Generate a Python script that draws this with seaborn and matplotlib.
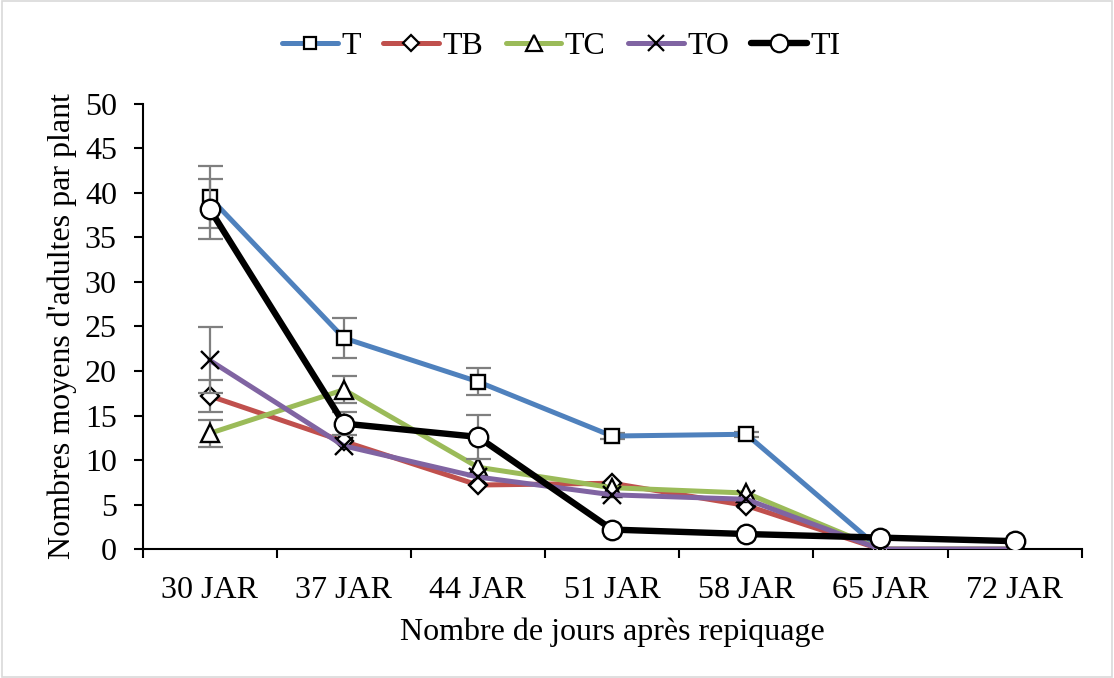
import numpy as np
import pandas as pd
import matplotlib.pyplot as plt
import seaborn as sns
from matplotlib.lines import Line2D
from matplotlib.patches import Rectangle

# Data
days = ['30 JAR', '37 JAR', '44 JAR', '51 JAR', '58 JAR', '65 JAR', '72 JAR']
series = ['T', 'TB', 'TC', 'TO', 'TI']
T  = [39.5, 23.7, 18.8, 12.7, 12.9, 0.0, 0.0]
TB = [17.2, 12.1, 7.2, 7.4, 4.9, 0.0, 0.0]
TC = [13.0, 17.9, 9.2, 6.9, 6.3, 0.0, 0.0]
TO = [21.2, 11.6, 8.1, 6.1, 5.6, 0.0, 0.0]
TI = [38.2, 14.1, 12.6, 2.2, 1.7, 1.3, 0.9]
T_err  = [3.5, 2.2, 1.5, 0.3, 0.3, 0, 0]
TB_err = [1.8, 0, 0, 0, 0, 0, 0]
TC_err = [1.5, 1.5, 0, 0, 0, 0, 0]
TO_err = [3.7, 0, 0, 0, 0, 0, 0]
TI_err = [3.4, 1.3, 2.5, 0, 0, 0, 0]

values = {'T': T, 'TB': TB, 'TC': TC, 'TO': TO, 'TI': TI}
errors = {'T': T_err, 'TB': TB_err, 'TC': TC_err, 'TO': TO_err, 'TI': TI_err}

df = pd.DataFrame([
    {'Jour': d, 'Serie': s, 'Valeur': v}
    for s in series for d, v in zip(days, values[s])
])

colors = {'T': '#4F81BD', 'TB': '#C0504D', 'TC': '#9BBB59',
          'TO': '#8064A2', 'TI': 'black'}
markers = {'T': 's', 'TB': 'D', 'TC': '^', 'TO': 'x', 'TI': 'o'}
msizes = {'T': 10, 'TB': 9.5, 'TC': 12.5, 'TO': 12.5, 'TI': 14}
lwidths = {'T': 3.6, 'TB': 3.6, 'TC': 3.6, 'TO': 3.6, 'TI': 4.6}

sns.set_style('white')
plt.rcParams['font.family'] = ['Liberation Serif', 'DejaVu Serif']
plt.rcParams['text.color'] = 'black'
plt.rcParams['axes.labelcolor'] = 'black'
plt.rcParams['xtick.color'] = 'black'
plt.rcParams['ytick.color'] = 'black'

fig = plt.figure(figsize=(11.14, 6.78), dpi=100)
ax = fig.add_axes([0.128, 0.190, 0.843, 0.657])

x = np.arange(len(days))
handles = []
for i, s in enumerate(series):
    sub = df[df['Serie'] == s]
    eb = [e if e > 0 else np.nan for e in errors[s]]
    ax.errorbar(x, values[s], yerr=eb, fmt='none', ecolor='#7F7F7F',
                elinewidth=1.6, capsize=9, capthick=1.6, zorder=2 + i)
    sns.lineplot(data=sub, x='Jour', y='Valeur', color=colors[s],
                 linewidth=lwidths[s], marker=markers[s], markersize=msizes[s],
                 markerfacecolor='white', markeredgecolor='black',
                 markeredgewidth=1.7, legend=False, ax=ax, zorder=3 + i)
    handles.append(Line2D([], [], color=colors[s], linewidth=lwidths[s],
                          marker=markers[s], markersize=msizes[s] * 0.9,
                          markerfacecolor='white', markeredgecolor='black',
                          markeredgewidth=1.6, label=s))

ax.set_xlim(-0.5, len(days) - 0.5)
ax.set_ylim(0, 50)
ax.set_yticks(range(0, 51, 5))
ax.set_xticks(x)
ax.set_xticklabels(days)
ax.set_xticks(np.arange(-0.5, len(days)), minor=True)
ax.tick_params(axis='x', which='major', length=0, labelsize=23, pad=19)
ax.tick_params(axis='x', which='minor', length=6.5, width=1.5, color='black',
               direction='out', bottom=True)
ax.tick_params(axis='y', which='major', length=6.5, width=1.5, color='black',
               direction='out', left=True, labelsize=23, pad=12)

for side in ['top', 'right']:
    ax.spines[side].set_visible(False)
for side in ['left', 'bottom']:
    ax.spines[side].set_color('black')
    ax.spines[side].set_linewidth(1.5)

ax.set_xlabel('Nombre de jours après repiquage', fontsize=23, labelpad=9)
ax.set_ylabel("Nombres moyens d'adultes par plant", fontsize=23, labelpad=6)

fig.legend(handles=handles, loc='center', bbox_to_anchor=(0.504, 0.932),
           ncol=5, frameon=False, fontsize=23, handlelength=1.75,
           columnspacing=0.7, handletextpad=0.1, borderaxespad=0)

fig.patches.append(Rectangle((0.002, 0.002), 0.996, 0.996, transform=fig.transFigure,
                             fill=False, edgecolor='#D9D9D9', linewidth=1.2))

fig.savefig('out.png', dpi=100)
